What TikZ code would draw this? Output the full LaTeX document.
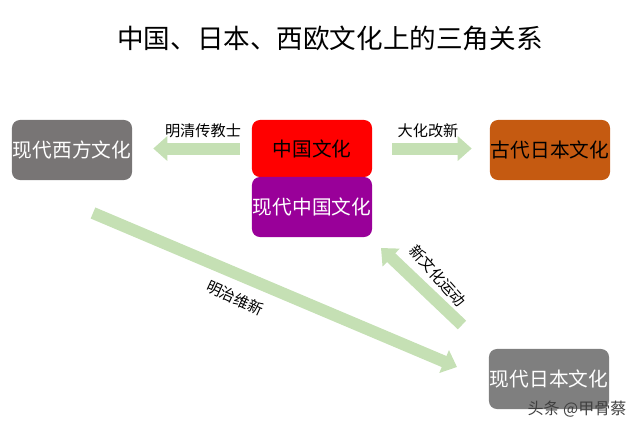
\documentclass[tikz,border=0pt]{standalone}
\usepackage{fontspec}
\setmainfont{Noto Sans CJK SC}
\usepackage{xcolor}
\usetikzlibrary{arrows.meta}

\definecolor{WestGray}{HTML}{787575}
\definecolor{JapanGray}{HTML}{7F7F7F}
\definecolor{ChinaRed}{HTML}{FF0000}
\definecolor{ChinaPurple}{HTML}{990099}
\definecolor{JapanOrange}{HTML}{C55A11}
\definecolor{FlowGreen}{HTML}{C5E0B4}

\begin{document}
\begin{tikzpicture}[
        x=0.025cm, y=-0.025cm,
        culture/.style={rounded corners=0.2cm, inner sep=0pt,
            minimum width=3cm, minimum height=1.5cm, font=\fontsize{14pt}{16pt}\selectfont},
        flow/.style={draw=FlowGreen, line width=0.3cm,
            -{Triangle[width=0.6cm, length=0.35cm]}},
        flowlabel/.style={font=\fontsize{10.8pt}{12pt}\selectfont},
    ]
            % Setup and bounding box
            \useasboundingbox (0,0) rectangle (640,430);

            % Title
            \node (title) at (330,38.5) {\fontsize{18.9pt}{22pt}\selectfont 中国、日本、西欧文化上的三角关系};

            % Culture boxes
            \node (west) at (72,150) [culture, fill=WestGray, text=white] {现代西方文化};
            \node (china) at (312,148.5) [culture, fill=ChinaRed, minimum height=1.425cm] {中国文化};
            \node (mchina) at (312,207) [culture, fill=ChinaPurple, text=white] {现代中国文化};
            \node (ajapan) at (550,150) [culture, fill=JapanOrange] {古代日本文化};
            \node (mjapan) at (549,379) [culture, fill=JapanGray, text=white] {现代日本文化};

            % Horizontal flows
            \draw [flow, shorten <=12*0.025cm, shorten >=21*0.025cm] (china.west) -- (china.west -| west.east);
            \node (missionary) at (203,131) [flowlabel] {明清传教士};
            \draw [flow, shorten <=20*0.025cm, shorten >=18*0.025cm] (china.east) -- (china.east -| ajapan.west);
            \node (taika) at (428,131) [flowlabel] {大化改新};

            % Diagonal flows
            \coordinate (meijiA) at (93,213);
            \coordinate (meijiB) at (457,367);
            \draw [flow] (meijiA) -- (meijiB);
            \node (meiji) at (235,298) [flowlabel, rotate=-25] {明治维新};

            \coordinate (xinA) at (462,325);
            \coordinate (xinB) at (381,248);
            \draw [flow] (xinA) -- (xinB);
            \node (xinwenhua) at (438,276) [flowlabel, rotate=-48] {新文化运动};

            % Watermark
            \node (mark) at (577,409) [black!75, font=\fontsize{11.4pt}{13pt}\selectfont] {头条 @甲骨蔡};
        \end{tikzpicture}
\end{document}
